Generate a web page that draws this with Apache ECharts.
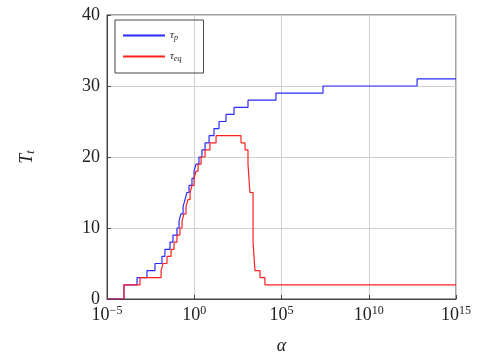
<!DOCTYPE html>
<html>
<head>
<meta charset="utf-8">
<script src="https://cdn.jsdelivr.net/npm/echarts@6/dist/echarts.min.js"></script>
<style>
  html, body { margin: 0; padding: 0; background: #fff; }
  #chart { width: 483px; height: 360px; }
</style>
</head>
<body>
<div id="chart"></div>
<script>
// alpha given as log10 exponent; each value holds from its exponent to the next one
const tauPExp = [-5, -4.03, -3.28, -2.71, -2.25, -1.85, -1.68, -1.39, -1.22, -0.99, -0.87, -0.76, -0.64, -0.53, -0.42, -0.30, -0.13, -0.01, 0.10, 0.27, 0.44, 0.62, 0.85, 1.13, 1.42, 1.82, 2.28, 3.08, 4.68, 7.38, 12.77, 15];
const tauPVal = [0, 2, 3, 4, 5, 6, 7, 8, 9, 10, 11, 12, 13, 14, 15, 16, 17, 18, 19, 20, 21, 22, 23, 24, 25, 26, 27, 28, 29, 30, 31, 31];

const tauEqExp = [-5, -4.03, -3.11, -1.90, -1.79, -1.56, -1.33, -1.16, -0.99, -0.82, -0.70, -0.59, -0.47, -0.36, -0.24, -0.13, -0.01, 0.10, 0.22, 0.39, 0.62, 0.90, 1.25, 1.59, 2.68, 2.91, 3.08, 3.19, 3.37, 3.48, 3.77, 4.05, 15];
const tauEqVal = [0, 2, 3, 4, 5, 6, 7, 8, 9, 10, 11, 12, 13, 14, 15, 16, 17, 18, 19, 20, 21, 22, 23, 23, 22, 21, 19, 15, 8, 4, 3, 2, 2];

const xTicks = [-5, 0, 5, 10, 15];
const yTicks = [0, 10, 20, 30, 40];

const serif = "'Liberation Serif', 'DejaVu Serif', serif";

function pairs(xs, ys) {
  return xs.map((x, i) => [x, ys[i]]);
}

const chart = echarts.init(document.getElementById("chart"), null, { renderer: "canvas" });

chart.setOption({
  animation: false,
  backgroundColor: "#fff",
  grid: {
    left: 107, right: 27, top: 15, bottom: 57,
    show: true, borderColor: "#444", borderWidth: 1
  },
  legend: {
    left: 115, top: 20,
    orient: "vertical",
    borderColor: "#444", borderWidth: 1, borderRadius: 0,
    padding: [10, 22, 10, 8],
    itemGap: 9,
    itemWidth: 42, itemHeight: 2,
    icon: "rect",
    formatter: (name) => (name === "p" ? "{i|τ}{s|p}" : "{i|τ}{s|eq}"),
    textStyle: {
      fontFamily: serif, fontSize: 11, color: "#222",
      rich: {
        i: { fontFamily: serif, fontStyle: "italic", fontSize: 11, color: "#222" },
        s: { fontFamily: serif, fontStyle: "italic", fontSize: 8, color: "#222", verticalAlign: "bottom", padding: [5, 0, 0, 0] }
      }
    },
    data: ["p", "eq"]
  },
  xAxis: {
    type: "value",
    min: xTicks[0], max: xTicks[xTicks.length - 1], interval: 5,
    name: "α", nameLocation: "middle", nameGap: 38,
    nameTextStyle: { fontFamily: serif, fontSize: 18, fontStyle: "italic", color: "#222" },
    axisLine: { show: true, onZero: false, lineStyle: { color: "#444", width: 1 } },
    axisTick: { show: true, inside: true, length: 4, lineStyle: { color: "#444" } },
    splitLine: { show: true, lineStyle: { color: "#cfcfcf", width: 1 } },
    axisLabel: {
      margin: 6,
      formatter: (v) => "{b|10}{e|" + (v < 0 ? "−" + Math.abs(v) : v) + "}",
      rich: {
        b: { fontFamily: serif, fontSize: 18, color: "#222" },
        e: { fontFamily: serif, fontSize: 12, color: "#222", verticalAlign: "top", padding: [0, 0, 9, 0] }
      }
    }
  },
  yAxis: {
    type: "value",
    min: yTicks[0], max: yTicks[yTicks.length - 1], interval: 10,
    name: "{i|T}{s|t}", nameLocation: "middle", nameGap: 70, nameRotate: 90,
    nameTextStyle: {
      rich: {
        i: { fontFamily: serif, fontStyle: "italic", fontSize: 18, color: "#222" },
        s: { fontFamily: serif, fontStyle: "italic", fontSize: 12, color: "#222", padding: [8, 0, 0, 0] }
      }
    },
    axisLine: { show: true, onZero: false, lineStyle: { color: "#444", width: 1 } },
    axisTick: { show: true, inside: true, length: 4, lineStyle: { color: "#444" } },
    splitLine: { show: true, lineStyle: { color: "#cfcfcf", width: 1 } },
    axisLabel: { margin: 7, fontFamily: serif, fontSize: 18, color: "#222" }
  },
  series: [
    {
      name: "p", type: "line", step: "end",
      data: pairs(tauPExp, tauPVal),
      showSymbol: false, symbol: "none",
      itemStyle: { color: "#2b2bff" },
      lineStyle: { color: "#2b2bff", width: 1.2 }
    },
    {
      name: "eq", type: "line", step: "end",
      data: pairs(tauEqExp, tauEqVal),
      showSymbol: false, symbol: "none",
      itemStyle: { color: "#ff2020" },
      lineStyle: { color: "#ff2020", width: 1.2 }
    }
  ]
});
</script>
</body>
</html>
